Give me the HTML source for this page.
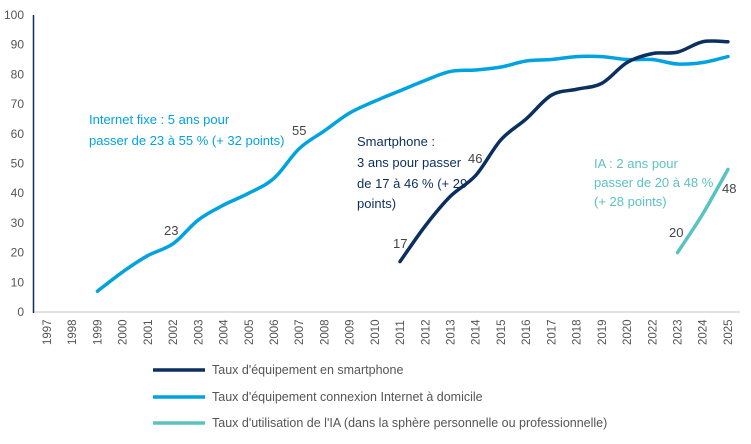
<!DOCTYPE html><html><head><meta charset="utf-8"><style>body{margin:0;background:#fff}svg{display:block;font-family:"Liberation Sans",sans-serif}</style></head><body>
<svg id="s" width="751" height="444" viewBox="0 0 751 444"></svg>
<script>
const s=document.getElementById('s');let h='';
const X0=47,ST=25.22,Y0=312,K=2.97;
const yrs=[];for(let y=1997;y<=2020;y++)yrs.push(y);yrs.push(2022,2023,2024,2025);
const xi=y=>X0+yrs.indexOf(y)*ST, yv=v=>Y0-v*K;
h+=`<line x1="33" y1="312" x2="740" y2="312" stroke="#d9d9d9" stroke-width="1.5"/><line x1="33.5" y1="15" x2="33.5" y2="313" stroke="#0b2f5e" stroke-width="1.5"/>`;
for(let v=0;v<=100;v+=10)h+=`<text x="24" y="${yv(v)+4}" text-anchor="end" font-size="12" fill="#555">${v}</text>`;
yrs.forEach(y=>{const x=xi(y);h+=`<text transform="translate(${x+4},345) rotate(-90)" font-size="11.5" fill="#555">${y}</text>`});
function path(d,c){const p=d.map(([y,v])=>[xi(y),yv(v)]);let r=`M${p[0][0]},${p[0][1]}`;
for(let i=0;i<p.length-1;i++){const a=p[i-1]||p[i],b=p[i],c2=p[i+1],e=p[i+2]||c2;
r+=` C${b[0]+(c2[0]-a[0])/6},${b[1]+(c2[1]-a[1])/6} ${c2[0]-(e[0]-b[0])/6},${c2[1]-(e[1]-b[1])/6} ${c2[0]},${c2[1]}`}
return `<path d="${r}" fill="none" stroke="${c}" stroke-width="3.5" stroke-linecap="round"/>`}
const inet=[[1999,7],[2000,13.5],[2001,19],[2002,23],[2003,31],[2004,36],[2005,40],[2006,45],[2007,55],[2008,61],[2009,67],[2010,71],[2011,74.5],[2012,78],[2013,81],[2014,81.5],[2015,82.5],[2016,84.5],[2017,85],[2018,86],[2019,86],[2020,85],[2022,85],[2023,83.5],[2024,84],[2025,86]];
const sm=[[2011,17],[2012,29],[2013,39],[2014,46],[2015,58],[2016,65],[2017,73],[2018,75],[2019,77],[2020,84],[2022,87],[2023,87.5],[2024,91],[2025,91]];
const ia=[[2023,20],[2024,33],[2025,48]];
h+=path(inet,'#00a3e0')+path(sm,'#0b2f5e')+path(ia,'#5bc2c2');
const t=(x,y,c,txt,fs=13)=>`<text x="${x}" y="${y}" font-size="${fs}" fill="${c}">${txt}</text>`;
h+=t(164,235,'#444','23')+t(292,135,'#444','55')+t(393,248,'#444','17')+t(468,163,'#444','46')+t(669,237,'#444','20')+t(722,193,'#444','48');
h+=t(89,124,'#00a3e0','Internet fixe : 5 ans pour')+t(89,145,'#00a3e0','passer de 23 à 55 % (+ 32 points)');
h+=t(357,146,'#0b2f5e','Smartphone :')+t(357,167,'#0b2f5e','3 ans pour passer')+t(357,188,'#0b2f5e','de 17 à 46 % (+ 29')+t(357,208,'#0b2f5e','points)');
h+=t(594,168,'#5bc2c2','IA : 2 ans pour')+t(594,187,'#5bc2c2','passer de 20 à 48 %')+t(594,206,'#5bc2c2','(+ 28 points)');
[['#0b2f5e',"Taux d'équipement en smartphone",370],['#00a3e0',"Taux d'équipement connexion Internet à domicile",397],['#5bc2c2',"Taux d'utilisation de l'IA (dans la sphère personnelle ou professionnelle)",423]].forEach(([c,l,y])=>{
h+=`<line x1="153" y1="${y}" x2="205" y2="${y}" stroke="${c}" stroke-width="3.5"/>`+t(212,y+4,'#555',l,12.5)});
s.innerHTML=h;
</script></body></html>
